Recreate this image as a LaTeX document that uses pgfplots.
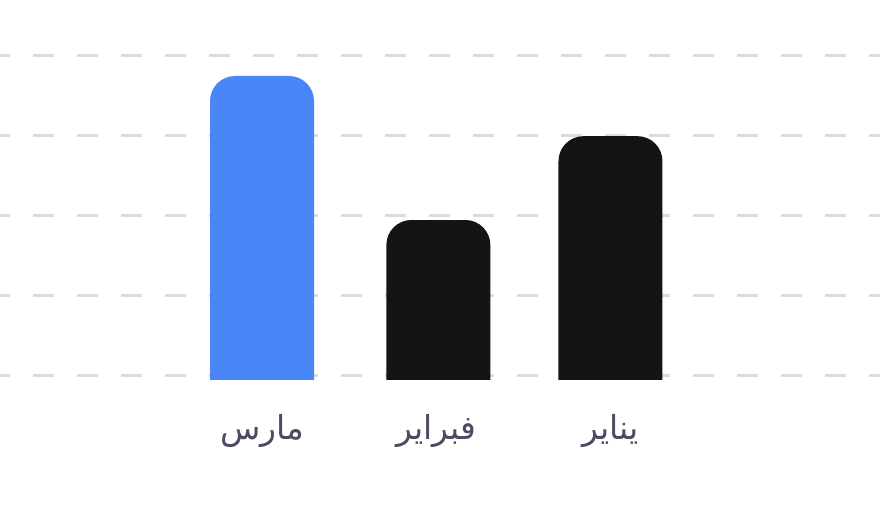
\documentclass[border=0pt]{standalone}
\usepackage{fontspec}
\setmainfont{DejaVu Sans}
\newfontfamily\arabicfont[Script=Arabic]{DejaVu Sans}
\TeXXeTstate=1
\usepackage{pgfplots}
\pgfplotsset{compat=1.18}

\definecolor{barblue}{HTML}{4A86F7}
\definecolor{barblack}{HTML}{141416}
\definecolor{gridgray}{HTML}{DCDCDC}
\definecolor{labelgray}{HTML}{4B4B63}

\begin{document}
\begin{tikzpicture}
\useasboundingbox (0,0) rectangle (880pt,520pt);
\begin{axis}[
    at={(0pt,109.28pt)}, anchor=south west,
    scale only axis,
    width=880pt, height=410.72pt,
    xmin=-1.504, xmax=3.547,
    ymin=-1, ymax=127.35,
    axis line style={draw=none},
    major tick length=0pt,
    ytick={10,35,60,85,110},
    yticklabels={},
    ymajorgrids,
    grid style={draw=gridgray, line width=2.2pt, dash pattern=on 21pt off 23pt, dash phase=10.7pt},
    xtick={0,1,2},
    xticklabels={{\arabicfont\beginR مارس\endR},{\arabicfont\beginR فبراير\endR},{\arabicfont\beginR يناير\endR}},
    xticklabel style={anchor=center, yshift=-20pt, text=labelgray, font=\fontsize{33}{38}\selectfont},
]
\addplot[ybar, bar shift=0pt, bar width=104pt, fill=barblue, draw=none, rounded corners=25pt]
    coordinates {(0,103.6)};
\addplot[ybar, bar shift=0pt, bar width=104pt, fill=barblack, draw=none, rounded corners=25pt]
    coordinates {(1.012,58.6) (2,84.8)};
% square off the bar bottoms at the baseline
\fill[white] (axis cs:-1.504,-1) rectangle (axis cs:3.547,8.6);
\end{axis}
\end{tikzpicture}
\end{document}
